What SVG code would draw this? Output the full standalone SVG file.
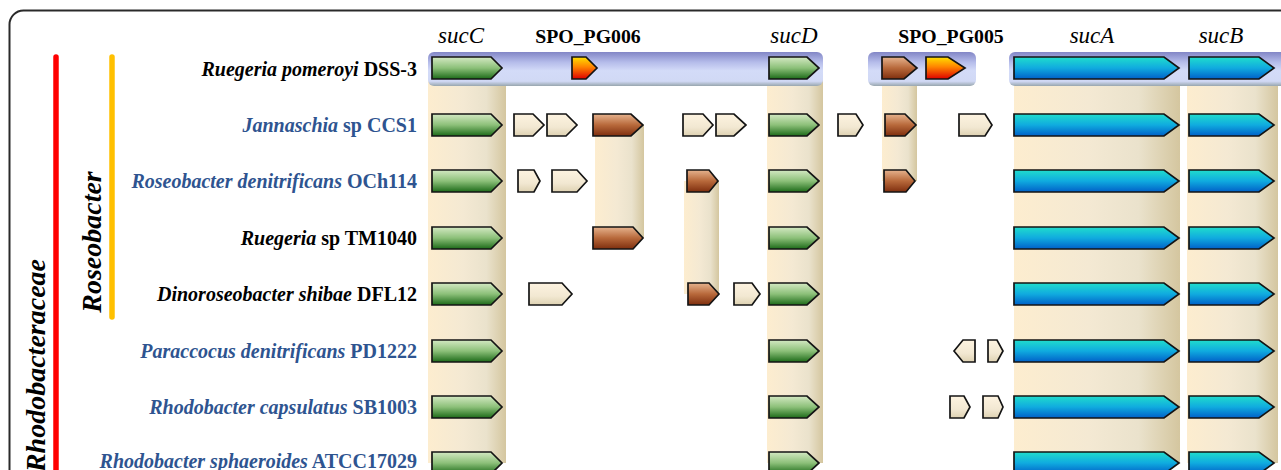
<svg xmlns="http://www.w3.org/2000/svg" xmlns:xlink="http://www.w3.org/1999/xlink" width="1281" height="470" viewBox="0 0 1281 470">
<style>
.lab{font-family:"Liberation Serif","Times New Roman",serif;font-size:20px;font-weight:bold;text-anchor:end}
.blk{fill:#000}
.blu{fill:#2E5490}
.it{font-style:italic}
.hd-i{font-family:"Liberation Serif","Times New Roman",serif;font-size:23px;font-style:italic;text-anchor:middle;fill:#000}
.hd-b{font-family:"Liberation Serif","Times New Roman",serif;font-size:19.8px;font-weight:bold;text-anchor:middle;fill:#000}
.clade{font-family:"Liberation Serif","Times New Roman",serif;font-size:28px;font-weight:bold;font-style:italic;fill:#000}
.ar{stroke:#141414;stroke-width:1.7;stroke-linejoin:miter}
.green{fill:url(#gGreen)}
.blue{fill:url(#gBlue)}
.brown{fill:url(#gBrown)}
.tan{fill:url(#gTan)}
.fire{fill:url(#gFire)}
.col{fill:url(#gCol)}
.bar{fill:url(#gBar)}
</style>
<defs>
<linearGradient id="gCol" x1="0" y1="0" x2="1" y2="0">
<stop offset="0" stop-color="#FDEDCF"/>
<stop offset="0.45" stop-color="#F4E9D3"/>
<stop offset="0.75" stop-color="#EAE2CC"/>
<stop offset="1" stop-color="#D4C69F"/>
</linearGradient>
<linearGradient id="gBar" x1="0" y1="0" x2="0" y2="1">
<stop offset="0" stop-color="#8286C6"/>
<stop offset="0.3" stop-color="#B5BCEA"/>
<stop offset="0.55" stop-color="#D3DBF8"/>
<stop offset="0.86" stop-color="#D1D9F5"/>
<stop offset="1" stop-color="#98A6AE"/>
</linearGradient>
<linearGradient id="gGreen" x1="0" y1="0" x2="0" y2="1">
<stop offset="0" stop-color="#D4E9C3"/>
<stop offset="0.5" stop-color="#8CC079"/>
<stop offset="1" stop-color="#1C6A18"/>
</linearGradient>
<linearGradient id="gBlue" x1="0" y1="0" x2="0" y2="1">
<stop offset="0" stop-color="#20DDCC"/>
<stop offset="0.5" stop-color="#10ABDF"/>
<stop offset="1" stop-color="#0060C8"/>
</linearGradient>
<linearGradient id="gBrown" x1="0" y1="0" x2="0" y2="1">
<stop offset="0" stop-color="#E6B38E"/>
<stop offset="0.5" stop-color="#B8693B"/>
<stop offset="1" stop-color="#7E2E0E"/>
</linearGradient>
<linearGradient id="gTan" x1="0" y1="0" x2="0" y2="1">
<stop offset="0" stop-color="#FDF3E0"/>
<stop offset="0.6" stop-color="#F2E8D2"/>
<stop offset="1" stop-color="#DED2B2"/>
</linearGradient>
<linearGradient id="gFire" x1="0" y1="0" x2="0" y2="1">
<stop offset="0" stop-color="#FFE000"/>
<stop offset="0.45" stop-color="#FF8400"/>
<stop offset="1" stop-color="#DD0000"/>
</linearGradient>
<polygon id="sucC" class="ar green" points="432,-11 491,-11 502,0 491,11 432,11"/>
<polygon id="sucD" class="ar green" points="769,-11 807,-11 819,0 807,11 769,11"/>
<polygon id="sucA" class="ar blue" points="1014,-11 1164,-11 1179,0 1164,11 1014,11"/>
<polygon id="sucB" class="ar blue" points="1189,-11 1259,-11 1274,0 1259,11 1189,11"/>
</defs>

<rect x="9.5" y="10.5" width="1320" height="520" rx="14" fill="#fff" stroke="#2a2a2a" stroke-width="2"/>

<g id="clades">
<line x1="56" y1="57" x2="56" y2="480" stroke="#FF0000" stroke-width="5.5" stroke-linecap="round"/>
<line x1="112" y1="57" x2="112" y2="317" stroke="#FFC000" stroke-width="5.5" stroke-linecap="round"/>
<text class="clade" text-anchor="end" transform="translate(45,259) rotate(-90)">Rhodobacteraceae</text>
<text class="clade" text-anchor="middle" transform="translate(101,242) rotate(-90)">Roseobacter</text>
</g>

<g id="connectors">
<rect class="col" x="428" y="68" width="78" height="395"/>
<rect class="col" x="767" y="68" width="56" height="395"/>
<rect class="col" x="1014" y="68" width="166" height="395"/>
<rect class="col" x="1187" y="68" width="91" height="395"/>
<rect class="col" x="595" y="125" width="49" height="113"/>
<rect class="col" x="684" y="181" width="35" height="113"/>
<rect class="col" x="882" y="68" width="35" height="113"/>
</g>

<g id="headers">
<text class="hd-i" x="461" y="43">sucC</text>
<text class="hd-b" x="588" y="43">SPO_PG006</text>
<text class="hd-i" x="794" y="43">sucD</text>
<text class="hd-b" x="951" y="43">SPO_PG005</text>
<text class="hd-i" x="1092" y="43">sucA</text>
<text class="hd-i" x="1221" y="43">sucB</text>
</g>

<g id="row-ruegeria-pomeroyi">
<rect class="bar" x="428" y="52" width="395" height="34" rx="6"/>
<rect class="bar" x="868" y="52" width="108" height="34" rx="6"/>
<rect class="bar" x="1009" y="52" width="290" height="34" rx="6"/>
<text class="lab blk" x="417" y="75.5"><tspan class="it">Ruegeria pomeroyi</tspan> DSS-3</text>
<use href="#sucC" y="68"/>
<polygon class="ar fire" points="572,57 586,57 597,68 586,79 572,79"/>
<use href="#sucD" y="68"/>
<polygon class="ar brown" points="882,57 904,57 917,68 904,79 882,79"/>
<polygon class="ar fire" points="926,57 948,57 965,68 948,79 926,79"/>
<use href="#sucA" y="68"/>
<use href="#sucB" y="68"/>
</g>

<g id="row-jannaschia">
<text class="lab blu" x="417" y="132"><tspan class="it">Jannaschia</tspan> sp CCS1</text>
<use href="#sucC" y="125"/>
<polygon class="ar tan" points="514,114 533,114 544,125 533,136 514,136"/>
<polygon class="ar tan" points="547,114 566,114 577,125 566,136 547,136"/>
<polygon class="ar brown" points="593,114 631,114 643,125 631,136 593,136"/>
<polygon class="ar tan" points="683,114 703,114 713,125 703,136 683,136"/>
<polygon class="ar tan" points="716,114 734,114 746,125 734,136 716,136"/>
<use href="#sucD" y="125"/>
<polygon class="ar tan" points="838,114 856,114 863,125 856,136 838,136"/>
<polygon class="ar brown" points="885,114 905,114 916,125 905,136 885,136"/>
<polygon class="ar tan" points="959,114 985,114 992,125 985,136 959,136"/>
<use href="#sucA" y="125"/>
<use href="#sucB" y="125"/>
</g>

<g id="row-roseobacter-denitrificans">
<text class="lab blu" x="417" y="188"><tspan class="it">Roseobacter denitrificans</tspan> OCh114</text>
<use href="#sucC" y="181"/>
<polygon class="ar tan" points="518,170 534,170 540,181 534,192 518,192"/>
<polygon class="ar tan" points="552,170 577,170 587,181 577,192 552,192"/>
<polygon class="ar brown" points="687,170 709,170 718,181 709,192 687,192"/>
<use href="#sucD" y="181"/>
<polygon class="ar brown" points="884,170 906,170 915,181 906,192 884,192"/>
<use href="#sucA" y="181"/>
<use href="#sucB" y="181"/>
</g>

<g id="row-ruegeria-tm1040">
<text class="lab blk" x="417" y="245"><tspan class="it">Ruegeria</tspan> sp TM1040</text>
<use href="#sucC" y="238"/>
<polygon class="ar brown" points="593,227 633,227 643,238 633,249 593,249"/>
<use href="#sucD" y="238"/>
<use href="#sucA" y="238"/>
<use href="#sucB" y="238"/>
</g>

<g id="row-dinoroseobacter">
<text class="lab blk" x="417" y="301"><tspan class="it">Dinoroseobacter shibae</tspan> DFL12</text>
<use href="#sucC" y="294"/>
<polygon class="ar tan" points="529,283 562,283 572,294 562,305 529,305"/>
<polygon class="ar brown" points="688,283 709,283 719,294 709,305 688,305"/>
<polygon class="ar tan" points="734,283 752,283 760,294 752,305 734,305"/>
<use href="#sucD" y="294"/>
<use href="#sucA" y="294"/>
<use href="#sucB" y="294"/>
</g>

<g id="row-paraccocus">
<text class="lab blu" x="417" y="358"><tspan class="it">Paraccocus denitrificans</tspan> PD1222</text>
<use href="#sucC" y="351"/>
<use href="#sucD" y="351"/>
<polygon class="ar tan" points="954,351 963,340 975,340 975,362 963,362"/>
<polygon class="ar tan" points="988,340 997,340 1003,351 997,362 988,362"/>
<use href="#sucA" y="351"/>
<use href="#sucB" y="351"/>
</g>

<g id="row-rhodobacter-capsulatus">
<text class="lab blu" x="417" y="414"><tspan class="it">Rhodobacter capsulatus</tspan> SB1003</text>
<use href="#sucC" y="407"/>
<use href="#sucD" y="407"/>
<polygon class="ar tan" points="950,396 964,396 970,407 964,418 950,418"/>
<polygon class="ar tan" points="983,396 998,396 1003,407 998,418 983,418"/>
<use href="#sucA" y="407"/>
<use href="#sucB" y="407"/>
</g>

<g id="row-rhodobacter-sphaeroides">
<text class="lab blu" x="417" y="468"><tspan class="it">Rhodobacter sphaeroides</tspan> ATCC17029</text>
<use href="#sucC" y="463"/>
<use href="#sucD" y="463"/>
<use href="#sucA" y="463"/>
<use href="#sucB" y="463"/>
</g>
</svg>
